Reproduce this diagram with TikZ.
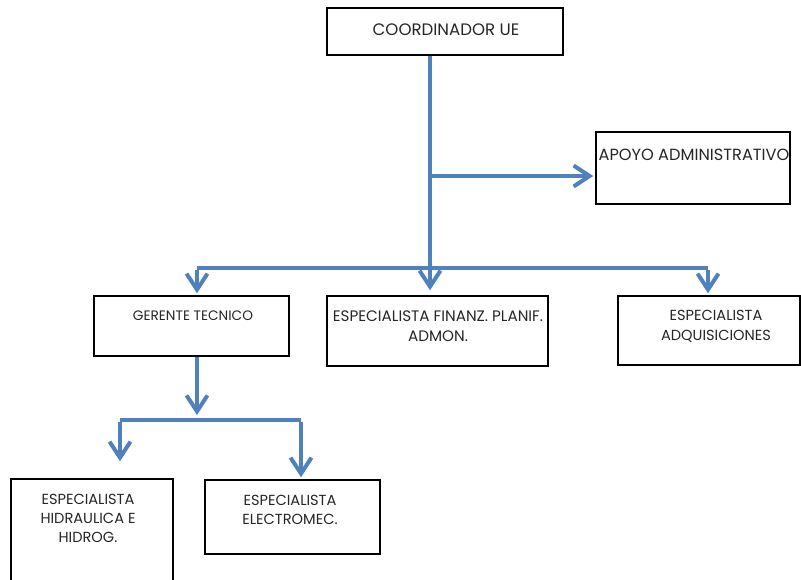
\documentclass[tikz,border=0pt]{standalone}
\usepackage{fontspec}
\setmainfont{Poppins}
\usepackage{tikz}
\usetikzlibrary{arrows.meta}
\definecolor{orgblue}{RGB}{79,129,189}

\begin{document}
\begin{tikzpicture}[
x=1pt,y=-1pt,
box/.style={draw=black,line width=1.5pt,inner sep=0pt},
txt/.style={align=center,inner sep=0pt,text=black!85,font=\fontsize{14.6}{19}\selectfont},
link/.style={orgblue,line width=4pt},
down/.style={link,-{Straight Barb[length=16pt,width=21pt]}}]
    % Page
    \clip (0,0) rectangle (801,579);

    % Boxes
    \node[box,minimum width=236,minimum height=47] (coord) at (445,31.5) {};
    \node[box,minimum width=194,minimum height=72] (apoyo) at (693,168) {};
    \node[box,minimum width=195,minimum height=60] (gerente) at (191.5,326) {};
    \node[box,minimum width=221,minimum height=70] (finanz) at (437.5,331) {};
    \node[box,minimum width=182,minimum height=69] (adqui) at (709,330.5) {};
    \node[box,minimum width=162,minimum height=130] (hidra) at (92,544) {};
    \node[box,minimum width=175,minimum height=74] (electro) at (292.5,517) {};

    % Texts
    \node[txt,font=\fontsize{16.6}{19}\selectfont] (coord-t) at (446,30) {COORDINADOR UE};
    \node[txt,font=\fontsize{16.2}{19}\selectfont] (apoyo-t) at (694,155) {APOYO ADMINISTRATIVO};
    \node[txt,font=\fontsize{13.7}{19}\selectfont] (gerente-t) at (193,316) {GERENTE TECNICO};
    \node[txt,font=\fontsize{15.2}{20}\selectfont] (finanz-t) at (438,326) {ESPECIALISTA FINANZ. PLANIF.\\ADMON.};
    \node[txt,font=\fontsize{14.6}{20}\selectfont] (adqui-t) at (716,326) {ESPECIALISTA\\ADQUISICIONES};
    \node[txt] (hidra-t) at (88,518.5) {ESPECIALISTA\\HIDRAULICA E\\HIDROG.};
    \node[txt] (electro-t) at (290,510) {ESPECIALISTA\\ELECTROMEC.};

    % Branch points
    \coordinate (mid) at (430,268);
    \coordinate (side) at (430,176);
    \coordinate (bl) at (197,268);
    \coordinate (br) at (708,268);
    \coordinate (gl) at (197,420);
    \coordinate (hl) at (120,420);
    \coordinate (hr) at (301,420);

    % Connectors
    \draw[down,shorten >=5pt] (coord.south -| mid) -- (finanz.north -| mid);
    \draw[down,shorten >=2pt] (side) -- (apoyo.west |- side);
    \draw[link] (bl) -- (br);
    \draw[down,shorten >=2pt] ([yshift=-2pt]bl) -- (gerente.north -| bl);
    \draw[down,shorten >=2pt] ([yshift=-2pt]br) -- (adqui.north -| br);
    \draw[down,shorten >=5pt] (gerente.south -| gl) -- (gl);
    \draw[link] (hl) -- (hr);
    \draw[down,shorten >=17pt] ([yshift=-2pt]hl) -- (hidra.north -| hl);
    \draw[down,shorten >=2pt] ([yshift=-2pt]hr) -- (electro.north -| hr);

\end{tikzpicture}
\end{document}
